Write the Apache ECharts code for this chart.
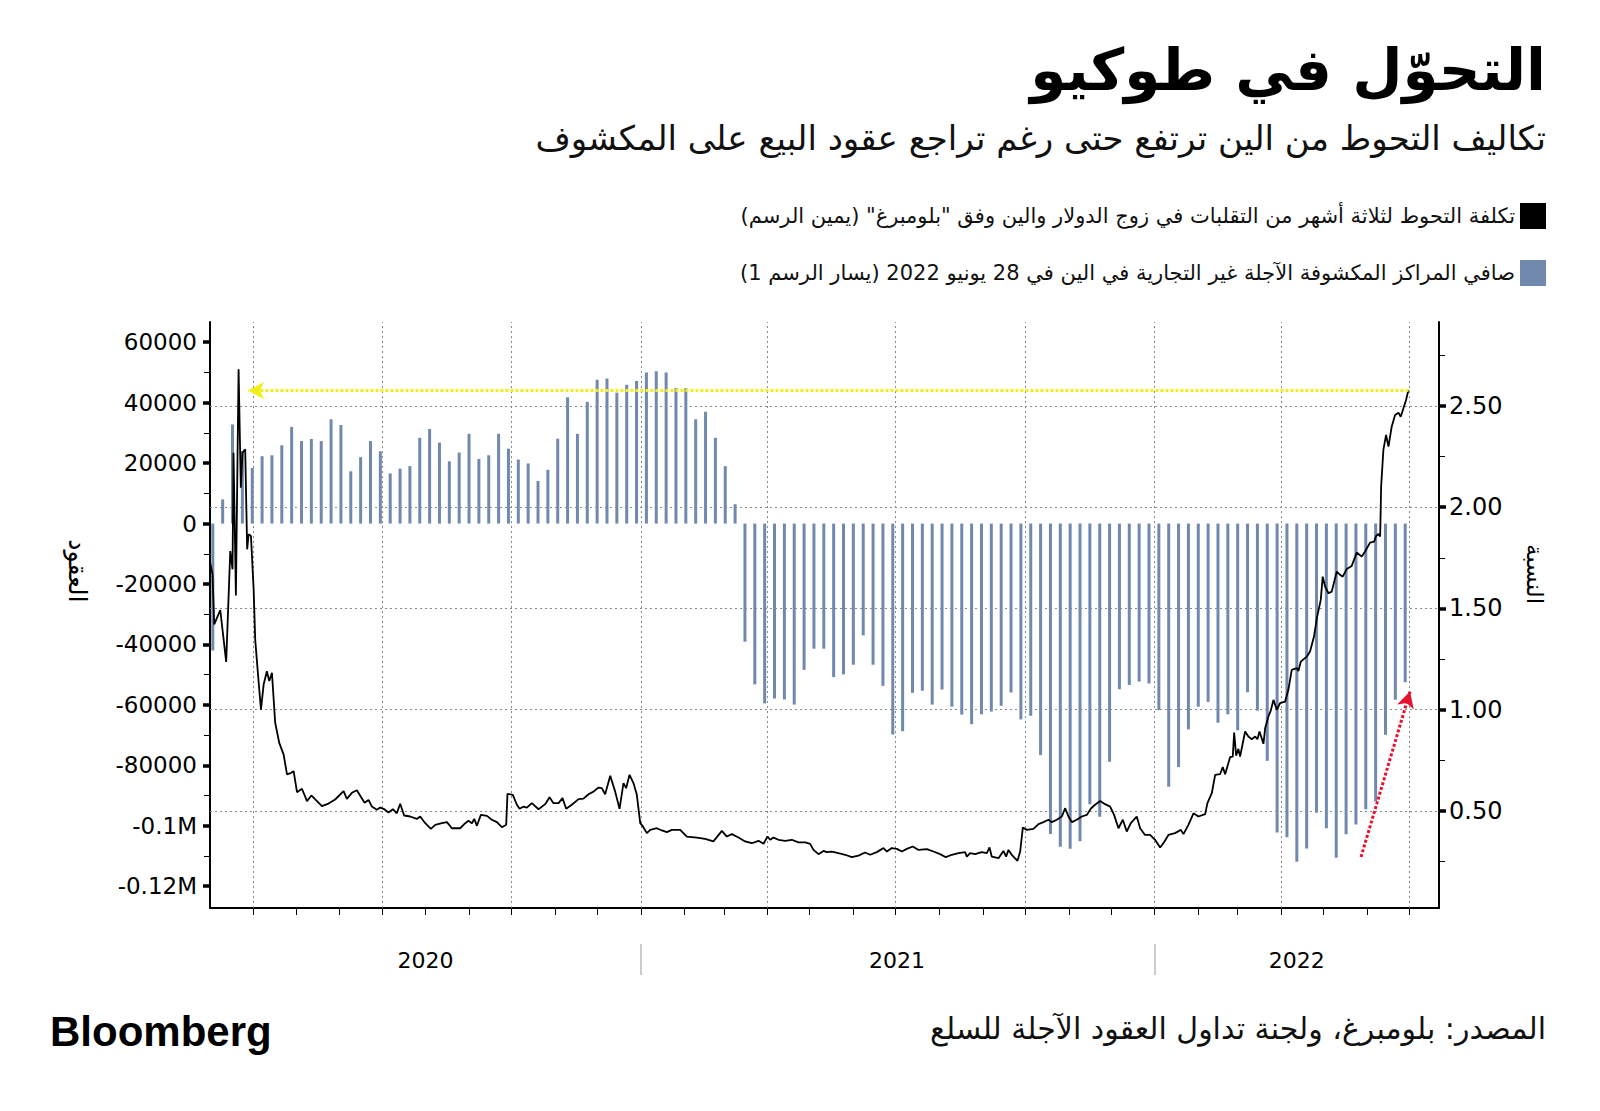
<!DOCTYPE html>
<html><head><meta charset="utf-8">
<script src="https://cdn.jsdelivr.net/npm/echarts@6/dist/echarts.min.js"></script>
<style>html,body{margin:0;padding:0;background:#fff}#c{width:1600px;height:1111px}</style>
</head><body><div id="c"></div>
<script>
// ---------- DATA ----------
const DAY = 86400000;
const ORIGIN = Date.UTC(2020, 2, 1);          // day 0 = 2020-03-01
const AXIS_END_DAY = 873;                     // ~2022-07-22

// Hedging cost (right axis): day offsets from 2020-03-01 and values
const lineDays = [0.2,1.8,3.0,7.3,11.5,14.4,16.0,16.7,18.4,20.3,21.9,23.1,25.0,26.4,27.4,29.1,31.0,32.1,34.0,36.2,38.1,40.4,42.1,44.0,46.3,49.2,52.3,54.7,57.7,59.4,61.8,65.3,68.9,72.0,76.0,79.5,84.2,88.9,94.9,97.2,100.8,104.3,109.8,
112.6,115.0,118.5,120.9,123.3,126.8,129.9,132.7,135.1,137.9,142.2,146.9,149.3,152.9,156.9,160.0,164.7,168.3,171.8,177.7,181.3,183.6,186.0,187.7,189.6,192.4,196.7,200.2,203.8,207.3,210.4,211.3,215.1,218.0,219.9,222.7,225.1,228.6,233.4,238.1,241.2,244.0,247.6,250.4,253.0,257.0,261.8,265.3,268.9,272.4,276.0,278.3,280.7,284.3,287.8,290.9,293.7,295.6,298.0,300.8,303.2,305.6,307.5,310.3,312.7,317.4,321.0,324.5,328.1,334.0,338.7,345.8,351.7,357.6,363.6,367.1,370.7,375.4,380.1,384.9,389.6,393.2,396.0,397.9,
400.3,403.8,408.6,413.3,418.0,422.8,426.3,428.7,432.2,435.8,438.1,441.7,446.4,451.2,455.9,460.6,465.4,468.9,473.7,478.4,480.8,484.3,487.9,491.4,495.0,499.2,503.3,509.2,513.9,518.6,522.7,526.9,531.7,536.4,537.6,539.9,543.5,548.2,551.8,553.7,555.3,560.1,563.6,565.5,567.2,569.5,573.6,575.5,577.4,580.2,584.9,588.5,592.0,595.6,598.0,601.5,605.1,607.4,609.8,612.2,615.7,619.3,622.8,625.9,628.7,632.3,635.8,639.4,642.2,645.3,648.4,651.2,654.1,658.3,660.7,664.2,667.8,671.3,674.9,677.7,680.8,685.5,689.6,691.5,695.0,698.6,702.1,706.9,
708.5,711.6,714.0,717.5,719.4,721.1,724.6,726.5,727.5,728.9,730.5,731.7,734.1,735.3,737.6,740.0,742.4,744.0,745.5,748.3,749.5,751.8,753.5,755.4,757.8,760.1,763.7,766.0,768.4,772.0,773.1,774.8,779.1,781.4,784.3,786.2,789.0,790.4,792.1,794.5,796.8,800.4,802.7,804.6,807.5,811.0,814.6,818.1,820.5,824.0,826.9,828.3,830.0,831.2,831.9,833.5,835.4,837.1,839.4,841.8,844.2,845.8,847.7,849.6,851.3];
const lineValues = [1.722,1.668,1.421,1.492,1.236,1.783,1.693,2.269,1.564,2.681,2.096,2.269,2.286,1.792,1.866,1.858,1.594,1.347,1.182,1.000,1.124,1.190,1.141,1.182,0.935,0.836,0.778,0.680,0.688,0.696,0.592,0.609,0.548,0.576,0.548,0.523,0.536,0.556,0.597,0.559,0.589,0.602,0.540,
0.554,0.521,0.505,0.516,0.510,0.492,0.508,0.488,0.535,0.477,0.472,0.460,0.472,0.439,0.411,0.431,0.439,0.444,0.414,0.414,0.439,0.451,0.439,0.460,0.426,0.480,0.475,0.456,0.444,0.419,0.431,0.584,0.579,0.530,0.510,0.521,0.516,0.538,0.508,0.533,0.567,0.538,0.538,0.563,0.510,0.530,0.558,0.560,0.582,0.595,0.615,0.612,0.582,0.673,0.595,0.510,0.637,0.612,0.678,0.637,0.579,0.439,0.423,0.390,0.406,0.414,0.403,0.395,0.406,0.406,0.373,0.368,0.362,0.349,0.401,0.373,0.385,0.368,0.349,0.340,0.352,0.337,0.373,0.357,
0.368,0.357,0.352,0.357,0.344,0.344,0.337,0.307,0.286,0.302,0.296,0.299,0.291,0.283,0.271,0.279,0.294,0.283,0.296,0.316,0.299,0.316,0.312,0.299,0.312,0.324,0.307,0.311,0.299,0.286,0.271,0.283,0.291,0.296,0.274,0.291,0.286,0.296,0.291,0.319,0.274,0.266,0.302,0.274,0.307,0.283,0.253,0.299,0.418,0.406,0.411,0.434,0.444,0.456,0.444,0.456,0.472,0.513,0.472,0.444,0.456,0.472,0.480,0.513,0.530,0.549,0.533,0.521,0.480,0.414,0.456,0.398,0.439,0.472,0.414,0.381,0.381,0.357,0.319,0.345,0.381,0.390,0.406,0.385,0.431,0.488,0.472,0.484,
0.538,0.587,0.678,0.681,0.716,0.681,0.765,0.768,0.887,0.773,0.806,0.768,0.851,0.892,0.867,0.854,0.867,0.854,0.892,0.831,0.908,0.966,0.995,1.048,0.999,1.032,1.040,1.098,1.196,1.205,1.191,1.237,1.262,1.287,1.364,1.451,1.542,1.657,1.608,1.575,1.583,1.682,1.666,1.657,1.695,1.710,1.776,1.756,1.781,1.825,1.830,1.858,1.868,1.855,2.102,2.283,2.357,2.299,2.398,2.456,2.467,2.447,2.488,2.530,2.579];

// Weekly net non-commercial yen positions (left axis), first report 2020-03-03
const barStartDate = '2020-03-03';
const barValues = [-42000,8000,32800,24000,18400,22300,22600,25900,32000,27300,28000,27300,34500,32600,17300,22000,27300,23900,16600,18200,19000,28400,31300,26800,20600,23500,29700,21400,22600,29700,24800,21200,19900,14100,17800,28100,41800,29700,40300,47600,48000,43300,45900,47200,50000,50400,50000,44800,44800,34500,37000,28400,19000,6400,
-39100,-53200,-59500,-57900,-58200,-59900,-48400,-41400,-41400,-50800,-49900,-46700,-37000,-46700,-53700,-69800,-68700,-56000,-55300,-59900,-54900,-60600,-63200,-66400,-63100,-62200,-60300,-55900,-64800,-63600,-76600,-102700,-106900,-107600,-105100,-92900,-97000,-78800,-54800,-53400,-52300,-52900,-61700,-87100,-80600,-68100,-60600,-59000,-65900,-63100,-68400,-55800,
-61900,-78500,-102200,-103800,-111900,-107500,-95700,-100800,-110600,-102800,-99600,-94500,-92000,-69900,-58300,-52500];

// Axes
const leftLabelValues = [-120000,-100000,-80000,-60000,-40000,-20000,0,20000,40000,60000];
const leftLabelTexts  = ['-0.12M','-0.1M','-80000','-60000','-40000','-20000','0','20000','40000','60000'];
const leftMinorTicks  = [-110000,-90000,-70000,-50000,-30000,-10000,10000,30000,50000];
const rightLabelValues = [0.5,1.0,1.5,2.0,2.5];
const rightMinorTicks = [0.25,0.75,1.25,1.75,2.25,2.75];
const quarterDates = ['2020-04-01','2020-07-01','2020-10-01','2021-01-01','2021-04-01','2021-07-01','2021-10-01','2022-01-01','2022-04-01','2022-07-01'];
const yearLabels = ['2020','2021','2022'];
const yearLabelDates = ['2020-08-01','2021-07-02','2022-04-12'];
const yearSeparatorDates = ['2021-01-01','2022-01-01'];

// Annotations
const yellowArrow = {fromDay: 851.3, toDay: 27, value: 2.576};
const redArrow = {fromDay: 817.6, fromValue: 0.272, toDay: 852.4, toValue: 1.089};

// Texts
const RLE = '\u202B', PDF = '\u202C';
const ar = s => RLE + s + PDF;
const titleText = ar('التحوّل في طوكيو');
const subtitleText = ar('تكاليف التحوط من الين ترتفع حتى رغم تراجع عقود البيع على المكشوف');
const lineName = ar('تكلفة التحوط لثلاثة أشهر من التقلبات في زوج الدولار والين وفق "بلومبرغ" (يمين الرسم)');
const barName = ar('صافي المراكز المكشوفة الآجلة غير التجارية في الين في 28 يونيو 2022 (يسار الرسم 1)');
const leftAxisName = ar('العقود');
const rightAxisName = ar('النسبة');
const sourceText = ar('المصدر: بلومبرغ، ولجنة تداول العقود الآجلة للسلع');

// ---------- BUILD ----------
const dayTs = d => ORIGIN + d * DAY;
const ts = s => new Date(s + 'T00:00:00Z').getTime();
const lineData = lineDays.map((d, i) => [dayTs(d), lineValues[i]]);
const barStart = ts(barStartDate);
const barData = barValues.map((v, i) => [barStart + i * 7 * DAY, v]);
const monthTicks = [];
for (let y = 2020, m = 3; y < 2022 || m <= 6; ) { monthTicks.push(Date.UTC(y, m, 1)); m++; if (m > 11) { m = 0; y++; } }
const yearLabelTs = yearLabelDates.map(ts);

const AR_FONT = 'DejaVu Sans';
const BAR_COLOR = '#7189ad';
const gridStyle = {color: '#8a8a8a', width: 1, type: [2, 3]};
const LEFT_RANGE = {min: -127200, max: 66700};
const RIGHT_RANGE = {min: 0.02, max: 2.915};
const hiddenAxisBase = {type: 'value', axisLine: {show: false}, axisLabel: {show: false}, splitLine: {show: false}};

const chart = echarts.init(document.getElementById('c'), null, {renderer: 'svg'});
chart.setOption({
  animation: false,
  backgroundColor: '#fff',
  title: [
    {text: titleText, right: 54, top: 41, padding: 0, textStyle: {fontFamily: AR_FONT, fontSize: 58, fontWeight: 'bold', color: '#000'}},
    {text: subtitleText, right: 54, top: 121, padding: 0, textStyle: {fontFamily: AR_FONT, fontSize: 34, fontWeight: 'normal', color: '#111'}},
    {text: sourceText, right: 54, top: 1013, padding: 0, textStyle: {fontFamily: AR_FONT, fontSize: 30, fontWeight: 'normal', color: '#111'}},
    {text: 'Bloomberg', left: 50, top: 1010, padding: 0, textStyle: {fontFamily: 'Liberation Sans', fontSize: 42, fontWeight: 'bold', color: '#000'}}
  ],
  legend: {
    orient: 'vertical', right: 54, top: 203, align: 'right', padding: 0,
    itemWidth: 26, itemHeight: 26, itemGap: 31,
    textStyle: {fontFamily: AR_FONT, fontSize: 21, color: '#111'},
    data: [{name: lineName, icon: 'rect', itemStyle: {color: '#000'}},
           {name: barName, icon: 'rect', itemStyle: {color: BAR_COLOR}}]
  },
  grid: {left: 210, right: 161, top: 322, bottom: 203, containLabel: false},
  xAxis: [
    {type: 'value', min: dayTs(0), max: dayTs(AXIS_END_DAY),
     axisLine: {show: true, onZero: false, lineStyle: {color: '#000', width: 2}},
     axisTick: {show: true, customValues: monthTicks, length: 7, lineStyle: {color: '#000', width: 1}},
     axisLabel: {show: false}, splitLine: {show: false}},
    {type: 'value', min: dayTs(0), max: dayTs(AXIS_END_DAY), position: 'bottom', offset: 36,
     axisLine: {show: false, onZero: false},
     axisTick: {show: true, customValues: yearSeparatorDates.map(ts), length: 31, lineStyle: {color: '#bbb', width: 1.5}},
     axisLabel: {show: true, customValues: yearLabelTs, margin: 5,
       formatter: v => { const i = yearLabelTs.indexOf(v); return i >= 0 ? yearLabels[i] : ''; },
       fontFamily: 'DejaVu Sans', fontSize: 22, color: '#000'},
     splitLine: {show: false}}
  ],
  yAxis: [
    {type: 'value', position: 'left', ...LEFT_RANGE,
     axisLine: {show: true, lineStyle: {color: '#000', width: 2}},
     axisTick: {show: true, customValues: leftLabelValues, length: 7, lineStyle: {color: '#000', width: 3.5}},
     axisLabel: {customValues: leftLabelValues, margin: 13, fontFamily: 'DejaVu Sans', fontSize: 23, color: '#000',
       formatter: v => { const i = leftLabelValues.indexOf(v); return i >= 0 ? leftLabelTexts[i] : ''; }},
     splitLine: {show: false}},
    {type: 'value', position: 'right', ...RIGHT_RANGE,
     axisLine: {show: true, lineStyle: {color: '#000', width: 2}},
     axisTick: {show: true, customValues: rightLabelValues, length: 7, lineStyle: {color: '#000', width: 3.5}},
     axisLabel: {customValues: rightLabelValues, margin: 10, fontFamily: 'DejaVu Sans', fontSize: 24, color: '#000',
       formatter: v => v.toFixed(2)},
     splitLine: {show: false}},
    {...hiddenAxisBase, position: 'left', ...LEFT_RANGE,
     axisTick: {show: true, customValues: leftMinorTicks, length: 6, lineStyle: {color: '#000', width: 1}}},
    {...hiddenAxisBase, position: 'right', ...RIGHT_RANGE,
     axisTick: {show: true, customValues: rightMinorTicks, length: 6, lineStyle: {color: '#000', width: 1}}}
  ],
  graphic: [
    {type: 'text', x: 77, y: 571, rotation: -Math.PI / 2, silent: true,
     style: {text: leftAxisName, fontFamily: AR_FONT, fontSize: 25, fill: '#000', align: 'center', verticalAlign: 'middle'}},
    {type: 'text', x: 1535, y: 574, rotation: -Math.PI / 2, silent: true,
     style: {text: rightAxisName, fontFamily: AR_FONT, fontSize: 23, fill: '#000', align: 'center', verticalAlign: 'middle'}}
  ],
  series: [
    {name: '__grid', type: 'line', xAxisIndex: 0, yAxisIndex: 1, data: [], silent: true,
     markLine: {silent: true, symbol: 'none', z: 1, label: {show: false}, lineStyle: gridStyle,
       data: quarterDates.map(d => ({xAxis: ts(d)})).concat(rightLabelValues.map(v => ({yAxis: v})))}},
    {name: barName, type: 'bar', xAxisIndex: 0, yAxisIndex: 0, data: barData, barWidth: 3,
     itemStyle: {color: BAR_COLOR}, z: 2},
    {name: lineName, type: 'line', xAxisIndex: 0, yAxisIndex: 1, data: lineData, showSymbol: false,
     lineStyle: {color: '#000', width: 1.8}, itemStyle: {color: '#000'}, z: 3},
    {name: '__yellow', type: 'line', xAxisIndex: 0, yAxisIndex: 1, data: [], silent: true,
     markLine: {silent: true, z: 4, symbol: ['none', 'arrow'], symbolSize: [13, 16], label: {show: false},
       lineStyle: {color: '#f2ee17', width: 3, type: [3, 2]},
       data: [[{coord: [dayTs(yellowArrow.fromDay), yellowArrow.value]}, {coord: [dayTs(yellowArrow.toDay), yellowArrow.value]}]]}},
    {name: '__red', type: 'line', xAxisIndex: 0, yAxisIndex: 1, data: [], silent: true,
     markLine: {silent: true, z: 4, symbol: ['none', 'arrow'], symbolSize: [13, 16], label: {show: false},
       lineStyle: {color: '#e8112d', width: 3, type: [3, 2]},
       data: [[{coord: [dayTs(redArrow.fromDay), redArrow.fromValue]}, {coord: [dayTs(redArrow.toDay), redArrow.toValue]}]]}}
  ]
});
</script></body></html>
